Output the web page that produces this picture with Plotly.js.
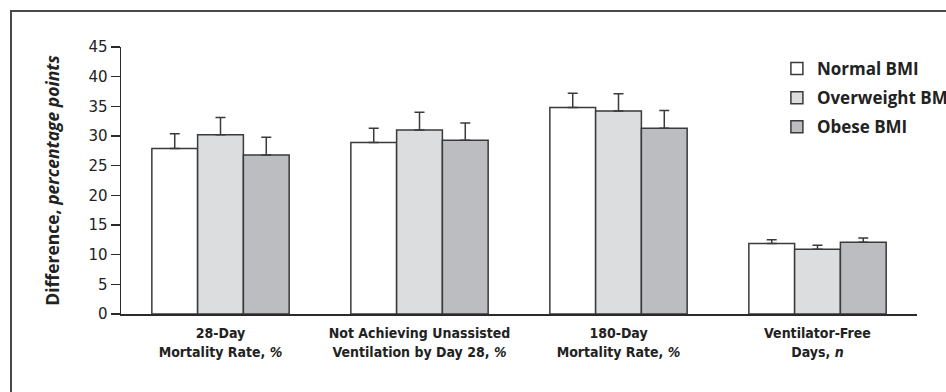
<!DOCTYPE html>
<html>
<head>
<meta charset="utf-8">
<script src="https://cdn.plot.ly/plotly-3.0.1.min.js"></script>
<style>
html,body{margin:0;padding:0;background:#fff;}
#wrap{position:relative;width:946px;height:392px;overflow:hidden;}
#chart{position:absolute;left:0;top:0;width:946px;height:392px;}
#frame{position:absolute;left:10px;top:10px;width:960px;height:400px;border-top:2px solid #4a4a4a;border-left:2px solid #4a4a4a;pointer-events:none;}
</style>
</head>
<body>
<div id="wrap"><div id="chart"></div><div id="frame"></div></div>
<script>
var categories = [
  "28-Day<br>Mortality Rate, <i>%</i>",
  "Not Achieving Unassisted<br>Ventilation by Day 28, <i>%</i>",
  "180-Day<br>Mortality Rate, <i>%</i>",
  "Ventilator-Free<br>Days, <i>n</i>"
];
var seriesNames = ["Normal BMI", "Overweight BMI", "Obese BMI"];
var normalValues = [27.9, 28.9, 34.8, 11.9];
var normalErrors = [2.5, 2.4, 2.4, 0.6];
var overweightValues = [30.2, 31.0, 34.2, 10.9];
var overweightErrors = [2.9, 3.0, 2.9, 0.7];
var obeseValues = [26.8, 29.3, 31.3, 12.1];
var obeseErrors = [3.0, 2.9, 3.0, 0.7];
var yTickValues = [0, 5, 10, 15, 20, 25, 30, 35, 40, 45];

var fills = ["#ffffff", "#dcdddf", "#bcbdc0"];
var vals = [normalValues, overweightValues, obeseValues];
var errs = [normalErrors, overweightErrors, obeseErrors];

var traces = seriesNames.map(function(name, i){
  return {
    type: "bar",
    name: name,
    x: categories,
    y: vals[i],
    legendgroup: "g" + i,
    marker: {color: fills[i], line: {color: "#3a3a3a", width: 1.5}},
    error_y: {type: "data", symmetric: false, array: errs[i], arrayminus: errs[i].map(function(){return 0;}), color: "#3a3a3a", thickness: 1.5, width: 5},
    hoverinfo: "skip"
  };
});

var layout = {
  width: 946, height: 392,
  margin: {l: 121, r: 29, t: 47, b: 78, pad: 0, autoexpand: false},
  paper_bgcolor: "rgba(0,0,0,0)",
  plot_bgcolor: "rgba(0,0,0,0)",
  barmode: "group",
  bargap: 0.31,
  bargroupgap: 0,
  showlegend: true,
  legend: {
    x: 0.824, xanchor: "left", y: 0.985, yanchor: "top",
    font: {family: "Open Sans", size: 17, color: "#222", weight: "bold"},
    traceorder: "grouped", tracegroupgap: 4,
    bgcolor: "rgba(0,0,0,0)", borderwidth: 0
  },
  xaxis: {
    type: "category",
    showline: true, linecolor: "#2a2a2a", linewidth: 1.5,
    ticks: "outside", ticklen: 6, tickcolor: "rgba(0,0,0,0)",
    showgrid: false, zeroline: false,
    tickfont: {family: "DejaVu Sans Condensed", size: 14, color: "#222", weight: "bold", stretch: "condensed"}
  },
  yaxis: {
    range: [0, 45], tickvals: yTickValues,
    showline: true, linecolor: "#2a2a2a", linewidth: 1.5,
    ticks: "outside", ticklen: 9, tickwidth: 1.2, tickcolor: "#2a2a2a",
    showgrid: false, zeroline: false,
    tickfont: {family: "DejaVu Sans", size: 15, color: "#222"},
    title: {text: "Difference, <i>percentage points</i>", font: {family: "Open Sans", size: 17.5, color: "#222", weight: "bold"}, standoff: 24}
  },
  font: {family: "Open Sans"}
};

Plotly.newPlot("chart", traces, layout, {staticPlot: true, displayModeBar: false});
</script>
</body>
</html>
